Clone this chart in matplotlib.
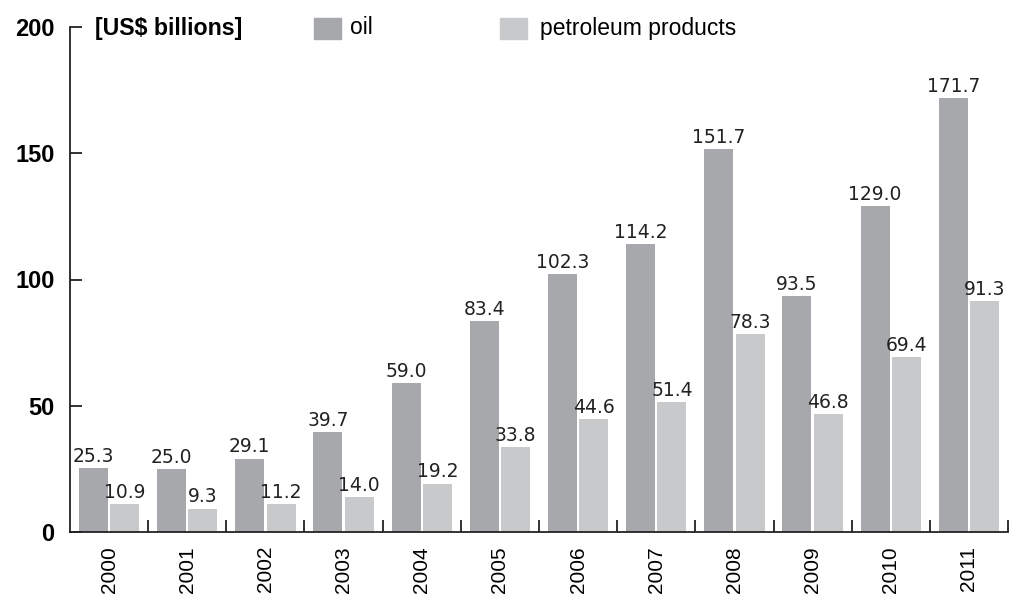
import matplotlib
matplotlib.use("Agg")
import matplotlib.pyplot as plt
from matplotlib.patches import Rectangle
import numpy as np

years = ["2000", "2001", "2002", "2003", "2004", "2005", "2006", "2007", "2008", "2009", "2010", "2011"]
oil = [25.3, 25.0, 29.1, 39.7, 59.0, 83.4, 102.3, 114.2, 151.7, 93.5, 129.0, 171.7]
products = [10.9, 9.3, 11.2, 14.0, 19.2, 33.8, 44.6, 51.4, 78.3, 46.8, 69.4, 91.3]
y_ticks = [0, 50, 100, 150, 200]

c_oil = "#a7a8ab"
c_prod = "#c8c9cb"

W, H = 1012, 595
fig = plt.figure(figsize=(W / 100, H / 100), dpi=100)
ax = fig.add_axes([70 / W, 63 / H, 938 / W, 505 / H])

x = np.arange(len(years))
bw = 0.37
b1 = ax.bar(x - 0.2, oil, bw, color=c_oil, linewidth=0)
b2 = ax.bar(x + 0.2, products, bw, color=c_prod, linewidth=0)

for bars, vals in ((b1, oil), (b2, products)):
    for r, v in zip(bars, vals):
        ax.annotate(f"{v:.1f}", (r.get_x() + r.get_width() / 2, v),
                    xytext=(0, 1.5), textcoords="offset points",
                    ha="center", va="bottom", fontsize=13.5,
                    family="DejaVu Sans", color="#222222")

ax.set_xlim(-0.5, len(years) - 0.5)
ax.set_ylim(0, 200)

for s in ("top", "right"):
    ax.spines[s].set_visible(False)
for s in ("left", "bottom"):
    ax.spines[s].set_linewidth(1.3)
    ax.spines[s].set_color("#222222")

# y axis
ax.set_yticks(y_ticks)
ax.set_yticklabels([str(t) for t in y_ticks], fontsize=17, fontweight="bold",
                   family="Liberation Sans")
ax.tick_params(axis="y", direction="in", length=8.6, width=1.3, pad=11,
               color="#222222")

# x axis: separators as major ticks, labels as minor ticks
ax.set_xticks(np.arange(len(years)) + 0.5)
ax.set_xticklabels([])
ax.tick_params(axis="x", which="major", direction="in", length=8.6, width=1.3,
               color="#222222")
ax.set_xticks(x, minor=True)
ax.set_xticklabels(years, minor=True, rotation=90, fontsize=15,
                   family="Liberation Sans")
ax.tick_params(axis="x", which="minor", length=0, pad=10)
for lab in ax.get_xticklabels(minor=True):
    lab.set_va("top")

# header and legend
fig.text(95 / W, 1 - 28 / H, "[US$ billions]", fontsize=16.7, fontweight="bold",
         family="Liberation Sans", va="center", ha="left")
fig.patches.append(Rectangle((314 / W, 1 - 39 / H), 27 / W, 21 / H,
                             transform=fig.transFigure, color=c_oil))
fig.text(350 / W, 1 - 28 / H, "oil", fontsize=16.5, family="Liberation Sans",
         va="center", ha="left")
fig.patches.append(Rectangle((500 / W, 1 - 39 / H), 27 / W, 21 / H,
                             transform=fig.transFigure, color=c_prod))
fig.text(540 / W, 1 - 28 / H, "petroleum products", fontsize=16.5,
         family="Liberation Sans", va="center", ha="left")

fig.savefig("out.png", dpi=100)
